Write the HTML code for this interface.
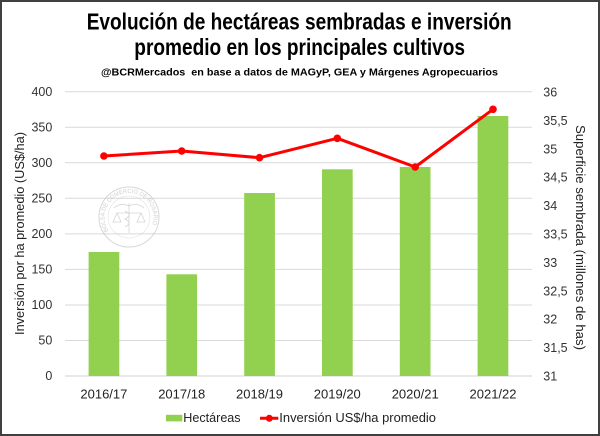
<!DOCTYPE html>
<html>
<head>
<meta charset="utf-8">
<style>
  html, body { margin: 0; padding: 0; background: #fff; }
  svg { display: block; }
  .t { font-family: "Liberation Sans Narrow", "Liberation Sans", sans-serif; font-weight: bold; fill: #000; }
  .tick { font-family: "Liberation Sans", sans-serif; font-size: 12.5px; fill: #333; }
  .xl { font-family: "Liberation Sans", sans-serif; font-size: 13px; fill: #222; }
  .ax { font-family: "Liberation Sans", sans-serif; font-size: 12.5px; fill: #222; }
  .lg { font-family: "Liberation Sans", sans-serif; font-size: 12.5px; fill: #222; }
</style>
</head>
<body>
<svg width="600" height="436" viewBox="0 0 600 436" xmlns="http://www.w3.org/2000/svg">
  <rect x="0" y="0" width="600" height="436" fill="#fff"/>

  <!-- Title -->
  <text class="t" x="86.7" y="29.3" font-size="23" textLength="425" lengthAdjust="spacingAndGlyphs">Evolución de hectáreas sembradas e inversión</text>
  <text class="t" x="134.3" y="55" font-size="23" textLength="330.7" lengthAdjust="spacingAndGlyphs">promedio en los principales cultivos</text>
  <text class="t" x="101" y="75.3" font-size="10.5" textLength="397" lengthAdjust="spacingAndGlyphs" xml:space="preserve">@BCRMercados  en base a datos de MAGyP, GEA y Márgenes Agropecuarios</text>

  <!-- Gridlines -->
  <g stroke="#D9D9D9" stroke-width="1">
    <line x1="65" x2="532" y1="91.7" y2="91.7"/>
    <line x1="65" x2="532" y1="127.2" y2="127.2"/>
    <line x1="65" x2="532" y1="162.8" y2="162.8"/>
    <line x1="65" x2="532" y1="198.3" y2="198.3"/>
    <line x1="65" x2="532" y1="233.9" y2="233.9"/>
    <line x1="65" x2="532" y1="269.4" y2="269.4"/>
    <line x1="65" x2="532" y1="305" y2="305"/>
    <line x1="65" x2="532" y1="340.5" y2="340.5"/>
  </g>
  <line x1="65" x2="532" y1="376" y2="376" stroke="#D0D0D0" stroke-width="1"/>

  <!-- Watermark seal -->
  <g opacity="0.55">
    <circle cx="129" cy="217" r="30" fill="none" stroke="#b8b8b8" stroke-width="1"/>
    <circle cx="129" cy="217" r="21" fill="none" stroke="#c8c8c8" stroke-width="0.6"/>
    <path id="sealarc" d="M 108.5 230.8 A 24.5 24.5 0 1 1 149.5 230.8" fill="none"/>
    <text font-family="Liberation Sans, sans-serif" font-size="6" fill="#a8a8a8">
      <textPath href="#sealarc" textLength="98" lengthAdjust="spacingAndGlyphs">BOLSA DE COMERCIO DE ROSARIO</textPath>
    </text>
    <g stroke="#b0b0b0" stroke-width="0.8" fill="none">
      <line x1="129" y1="203" x2="129" y2="233"/>
      <path d="M114 208 Q121 202 129 206 Q137 202 144 208"/>
      <line x1="117" y1="213" x2="141" y2="213"/>
      <path d="M113 222 L117 213 L121 222 Z"/>
      <path d="M137 222 L141 213 L145 222 Z"/>
      <path d="M125 211 Q133 215 125 219 Q133 223 125 227"/>
    </g>
  </g>

  <!-- Bars -->
  <g fill="#92D050">
    <rect x="88.6" y="252" width="30.7" height="124"/>
    <rect x="166.4" y="274.3" width="30.7" height="101.7"/>
    <rect x="244.2" y="193" width="30.7" height="183"/>
    <rect x="322" y="169.3" width="30.7" height="206.7"/>
    <rect x="399.8" y="167" width="30.7" height="209"/>
    <rect x="477.6" y="116" width="30.7" height="260"/>
  </g>

  <!-- Line -->
  <polyline points="103.9,156 181.7,151 259.5,157.7 337.3,138.3 415.2,167 493,109.3" fill="none" stroke="#FF0000" stroke-width="3" stroke-linejoin="round"/>
  <g fill="#FF0000">
    <circle cx="103.9" cy="156" r="3.8"/>
    <circle cx="181.7" cy="151" r="3.8"/>
    <circle cx="259.5" cy="157.7" r="3.8"/>
    <circle cx="337.3" cy="138.3" r="3.8"/>
    <circle cx="415.2" cy="167" r="3.8"/>
    <circle cx="493" cy="109.3" r="3.8"/>
  </g>

  <!-- Left tick labels -->
  <g class="tick" text-anchor="end">
    <text x="52.3" y="96">400</text>
    <text x="52.3" y="131.5">350</text>
    <text x="52.3" y="167">300</text>
    <text x="52.3" y="202.5">250</text>
    <text x="52.3" y="238">200</text>
    <text x="52.3" y="273.5">150</text>
    <text x="52.3" y="309">100</text>
    <text x="52.3" y="344.5">50</text>
    <text x="52.3" y="380">0</text>
  </g>

  <!-- Right tick labels -->
  <g class="tick" text-anchor="start">
    <text x="543.3" y="96.5">36</text>
    <text x="543.3" y="124.9">35,5</text>
    <text x="543.3" y="153.3">35</text>
    <text x="543.3" y="181.7">34,5</text>
    <text x="543.3" y="210.1">34</text>
    <text x="543.3" y="238.5">33,5</text>
    <text x="543.3" y="266.9">33</text>
    <text x="543.3" y="295.3">32,5</text>
    <text x="543.3" y="323.7">32</text>
    <text x="543.3" y="352.1">31,5</text>
    <text x="543.3" y="380.5">31</text>
  </g>

  <!-- X labels -->
  <g class="xl" text-anchor="middle">
    <text x="103.9" y="398.5">2016/17</text>
    <text x="181.7" y="398.5">2017/18</text>
    <text x="259.5" y="398.5">2018/19</text>
    <text x="337.3" y="398.5">2019/20</text>
    <text x="415.2" y="398.5">2020/21</text>
    <text x="493" y="398.5">2021/22</text>
  </g>

  <!-- Axis titles -->
  <text class="ax" transform="translate(24,233.5) rotate(-90)" text-anchor="middle" textLength="203" lengthAdjust="spacingAndGlyphs">Inversión por ha promedio (US$/ha)</text>
  <text class="ax" transform="translate(576,237.5) rotate(90)" text-anchor="middle" textLength="225" lengthAdjust="spacingAndGlyphs">Superficie sembrada (millones de has)</text>

  <!-- Legend -->
  <rect x="166" y="414.8" width="16.3" height="6.6" fill="#92D050"/>
  <text class="lg" x="183.3" y="422" textLength="57.3" lengthAdjust="spacingAndGlyphs">Hectáreas</text>
  <line x1="260" x2="278.3" y1="418.3" y2="418.3" stroke="#FF0000" stroke-width="3"/>
  <circle cx="269.3" cy="418.3" r="3.5" fill="#FF0000"/>
  <text class="lg" x="279.3" y="422" textLength="156.7" lengthAdjust="spacingAndGlyphs">Inversión US$/ha promedio</text>

  <!-- Frame -->
  <rect x="1" y="1" width="598" height="434" fill="none" stroke="#404040" stroke-width="2"/>
</svg>
</body>
</html>
